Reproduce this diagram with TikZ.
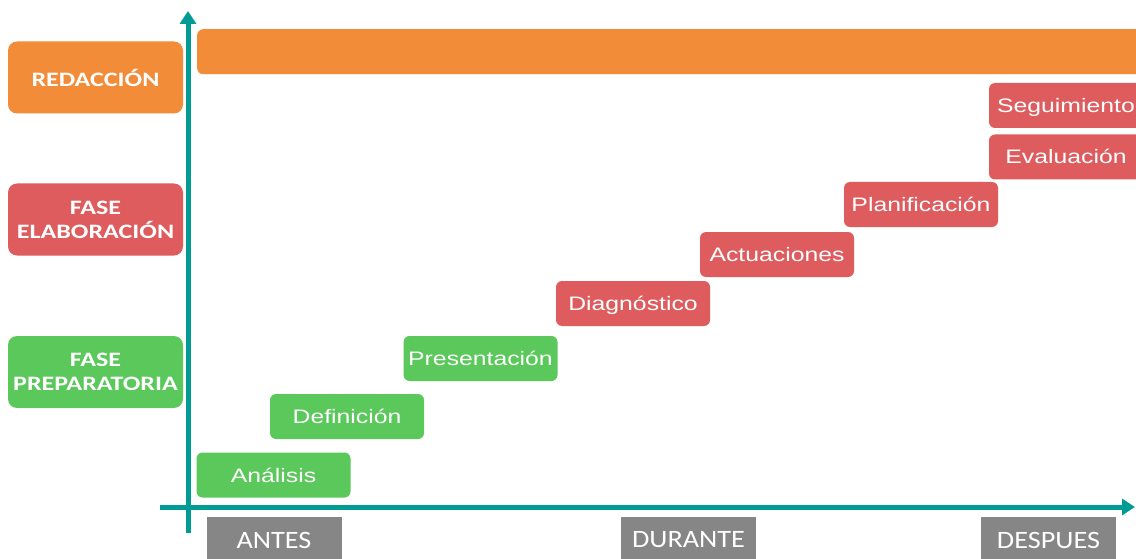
\documentclass[tikz,border=0pt]{standalone}
\usepackage{fontspec}
\usetikzlibrary{arrows.meta}
\newfontfamily\lblfont[FakeStretch=1.27]{Carlito}
\newfontfamily\boxfont[FakeStretch=1.27]{Liberation Sans}
\newfontfamily\timefont[FakeStretch=1.13]{Carlito}
\definecolor{cOrange}{HTML}{F28C38}
\definecolor{cRed}{HTML}{DE5C5E}
\definecolor{cGreen}{HTML}{5BC85B}
\definecolor{cTeal}{HTML}{009B95}
\definecolor{cGray}{HTML}{868686}
\begin{document}
\begin{tikzpicture}[x=1pt,y=-1pt,
  phase/.style={rounded corners=9pt, minimum width=175pt, minimum height=72pt, text=white,
    font=\lblfont\bfseries\fontsize{20.5}{24}\selectfont, align=center, inner sep=0pt},
  task/.style={rounded corners=6pt, minimum width=154pt, minimum height=45pt, text=white,
    font=\boxfont\fontsize{19.5}{22}\selectfont, inner sep=0pt, text height=14pt, text depth=0pt},
  when/.style={fill=cGray, minimum width=135pt, minimum height=46pt, text=white,
    font=\timefont\fontsize{25}{28}\selectfont, inner sep=0pt},
  axis/.style={draw=cTeal, line width=5pt, -{Triangle[width=16pt,length=13pt]}}
]
\useasboundingbox (0,0) rectangle (1136,559);
\clip (0,0) rectangle (1136,559);
\fill[white] (0,0) rectangle (1136,559);

% phase labels
\node[phase, fill=cOrange] (redac) at (95.5,77.5) {REDACCIÓN};
\node[phase, fill=cRed] (elab) at (95.5,219.5) {FASE\\ELABORACIÓN};
\node[phase, fill=cGreen] (prep) at (95.5,372) {FASE\\PREPARATORIA};

% orange bar
\node[fill=cOrange, rounded corners=6pt, minimum width=960pt, minimum height=45pt,
  anchor=north west, inner sep=0pt] (bar) at (197,29) {};

% tasks
\node[task, fill=cGreen] (analisis) at (273.5,475) {Análisis};
\node[task, fill=cGreen] (definicion) at (347,416.5) {Definición};
\node[task, fill=cGreen] (presentacion) at (480.5,358.5) {Presentación};
\node[task, fill=cRed] (diagnostico) at (633,303.5) {Diagnóstico};
\node[task, fill=cRed] (actuaciones) at (777,254.5) {Actuaciones};
\node[task, fill=cRed] (planificacion) at (921,204.5) {Planificación};
\node[task, fill=cRed] (evaluacion) at (1066,157) {Evaluación};
\node[task, fill=cRed] (seguimiento) at (1066,105.5) {Seguimiento};

% time labels
\node[when] (antes) at (274,540) {ANTES};
\node[when] (durante) at (688.5,540) {DURANTE};
\node[when] (despues) at (1048.5,540) {DESPUES};

% axes
\coordinate (yb) at (188,533);
\coordinate (yt) at (188,11);
\coordinate (xl) at (160,507);
\coordinate (xr) at (1135,507);
\draw[axis] (yb) -- (yt);
\draw[axis] (xl) -- (xr);
\end{tikzpicture}
\end{document}
